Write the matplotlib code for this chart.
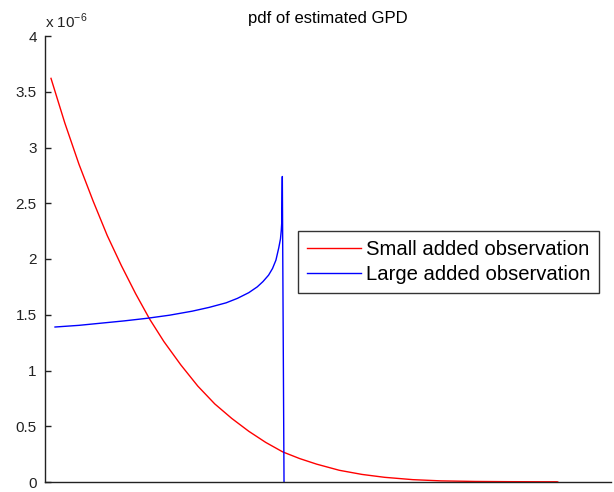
import numpy as np
from matplotlib import pyplot as plt

plt.rcParams['font.family'] = ['Liberation Sans', 'DejaVu Sans']

# values, y in units of 1e-6
x_small = [1.06, 3.5, 6, 8.5, 11, 13.5, 16, 18.5, 21, 24, 27, 30, 33, 36,
           39, 42, 45, 48, 52, 56, 60, 65, 70, 76, 82, 88, 90.5, 90.6]
y_small = [3.62, 3.22, 2.85, 2.52, 2.21, 1.94, 1.69, 1.46, 1.26, 1.05,
           0.86, 0.70, 0.57, 0.455, 0.355, 0.27, 0.21, 0.16, 0.105, 0.068,
           0.042, 0.021, 0.010, 0.005, 0.003, 0.002, 0.002, 0.0]

x_large = [1.77, 6, 10, 14, 18, 22, 26, 29, 32, 34, 36, 37.5, 38.5, 39.5,
           40.2, 40.8, 41.3, 41.6, 41.75, 41.82, 41.93, 42.23]
y_large = [1.39, 1.405, 1.425, 1.445, 1.468, 1.496, 1.532, 1.566, 1.607,
           1.647, 1.698, 1.75, 1.797, 1.855, 1.915, 1.99, 2.10, 2.18, 2.26,
           2.32, 2.74, 0.0]

labels = ['Small added observation', 'Large added observation']
yticks = [0, 0.5, 1, 1.5, 2, 2.5, 3, 3.5, 4]
ytick_labels = ['0', '0.5', '1', '1.5', '2', '2.5', '3', '3.5', '4']

fig = plt.figure(figsize=(6.14, 4.92), dpi=100)
ax = fig.add_axes([45/614, 1-482/492, 566/614, 446/492])

ax.plot(x_small, y_small, color='#ff0000', linewidth=1, label=labels[0])
ax.plot(x_large, y_large, color='#0000ff', linewidth=1, label=labels[1])

ax.set_xlim(0, 100)
ax.set_ylim(0, 4)
ax.set_xticks([])
ax.set_yticks(yticks)
ax.set_yticklabels(ytick_labels)
ax.tick_params(axis='y', direction='in', length=4, width=1, pad=6,
               labelsize=11, colors='#222222')
for side in ['top', 'right']:
    ax.spines[side].set_visible(False)
for side in ['left', 'bottom']:
    ax.spines[side].set_linewidth(1)
    ax.spines[side].set_color('#222222')

ax.set_title('pdf of estimated GPD', fontsize=12, pad=9)
fig.text(45/614, 1-28/492, r'x 10$^{\mathregular{-6}}$', fontsize=11,
         ha='left', va='baseline', color='#222222')

leg = ax.legend(loc='upper left', bbox_to_anchor=((297.7-45)/566, (482-231)/446),
                borderaxespad=0, fontsize=14.6, handlelength=2.65,
                handletextpad=0.25, borderpad=0.45, labelspacing=0.3,
                fancybox=False, framealpha=1)
leg.get_frame().set_edgecolor('#333333')
leg.get_frame().set_linewidth(1)

plt.savefig('out.png', dpi=100)
